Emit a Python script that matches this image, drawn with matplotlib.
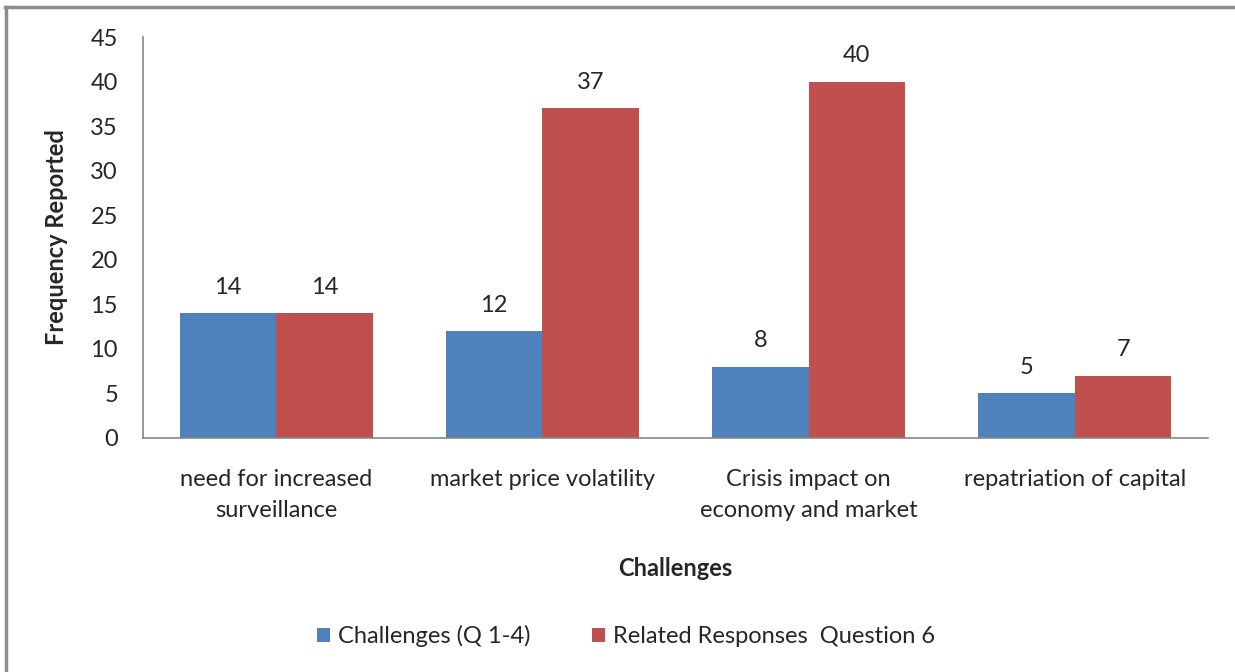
import matplotlib

matplotlib.use("Agg")
import matplotlib.pyplot as plt
from matplotlib.lines import Line2D
import numpy as np

# ---- Data ----
categories = [
    "need for increased\nsurveillance",
    "market price volatility",
    "Crisis impact on\neconomy and market",
    "repatriation of capital",
]
challenges_q1_4 = [14, 12, 8, 5]
related_q6 = [14, 37, 40, 7]
series_names = ["Challenges (Q 1-4)", "Related Responses  Question 6"]

BLUE = "#4F81BD"
RED = "#C0504D"
AXIS = "#868686"
TEXT = "#262626"
FS = 17

plt.rcParams["font.family"] = ["Lato", "DejaVu Sans"]

W_PX, H_PX = 1235, 672
DPI = 100
fig = plt.figure(figsize=(W_PX / DPI, H_PX / DPI), dpi=DPI, facecolor="white")
ax = fig.add_axes([143 / W_PX, 1 - 438 / H_PX, (1208 - 143) / W_PX, (438 - 37) / H_PX])

x = np.arange(len(categories))
bw = 0.3625
b1 = ax.bar(x - bw / 2, challenges_q1_4, bw, color=BLUE, label=series_names[0])
b2 = ax.bar(x + bw / 2, related_q6, bw, color=RED, label=series_names[1])

for bars in (b1, b2):
    for rect in bars:
        h = rect.get_height()
        ax.annotate(f"{h:g}", (rect.get_x() + rect.get_width() / 2, h),
                    xytext=(0, 11), textcoords="offset points",
                    ha="center", va="bottom", fontsize=FS, color=TEXT)

ax.set_xlim(-0.5, len(categories) - 0.5)
ax.set_ylim(0, 45)
ax.set_yticks(range(0, 46, 5))
ax.set_xticks(x)
ax.set_xticklabels(categories, fontsize=FS, color=TEXT, linespacing=1.6)
ax.tick_params(axis="y", labelsize=FS, colors=TEXT, length=0, pad=18)
ax.tick_params(axis="x", length=0, pad=22)

for s in ("top", "right"):
    ax.spines[s].set_visible(False)
for s in ("left", "bottom"):
    ax.spines[s].set_color(AXIS)
    ax.spines[s].set_linewidth(1.2)

ax.set_ylabel("Frequency Reported", fontsize=FS, fontweight="bold", color=TEXT, labelpad=16)
ax.set_xlabel("Challenges", fontsize=FS, fontweight="bold", color=TEXT, labelpad=26)

fig.legend(handles=[b1, b2], labels=series_names, loc="center",
           bbox_to_anchor=(626 / W_PX, 1 - 636 / H_PX), ncol=2, frameon=False,
           fontsize=FS, handlelength=0.55, handleheight=0.55, handletextpad=0.35,
           columnspacing=2.6, labelcolor=TEXT)

# outer chart border (left and top edges)
fig.add_artist(Line2D([6 / W_PX, 6 / W_PX], [0, 1 - 7 / H_PX], color="#8c8c8c", lw=2.5,
                      transform=fig.transFigure))
fig.add_artist(Line2D([5 / W_PX, 1], [1 - 7 / H_PX, 1 - 7 / H_PX], color="#8c8c8c", lw=2.5,
                      transform=fig.transFigure))

fig.savefig("out.png", dpi=DPI, facecolor="white")
